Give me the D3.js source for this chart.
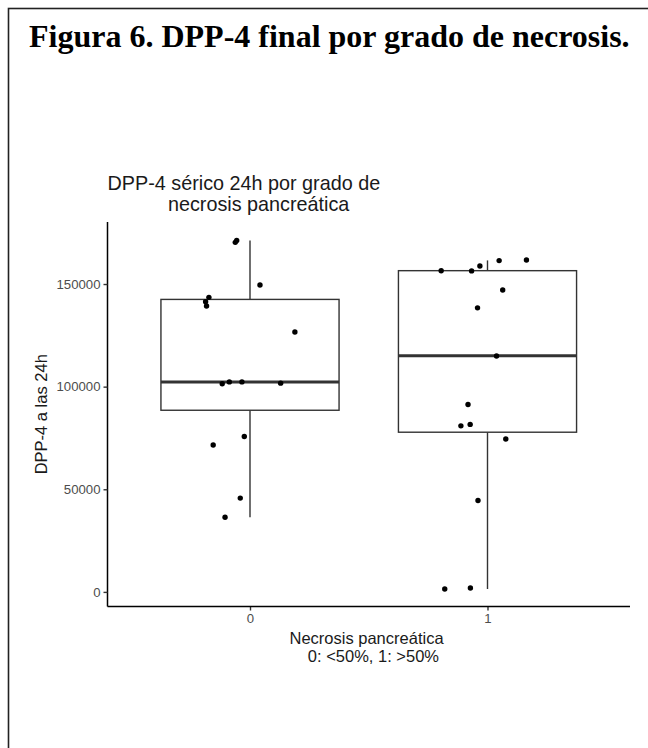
<!DOCTYPE html>
<html>
<head>
<meta charset="utf-8">
<script src="https://cdn.jsdelivr.net/npm/d3@7"></script>
<style>
  html, body { margin: 0; padding: 0; background: #fff; }
  svg { display: block; }
</style>
</head>
<body>
<svg id="chart" width="648" height="748"></svg>
<script>
// ---------------- data ----------------
const categories = ["0", "1"];
const yTicks = [0, 50000, 100000, 150000];

// box statistics: [lower whisker, Q1, median, Q3, upper whisker]
const boxStats0 = [36400, 88500, 102300, 142500, 171200];
const boxStats1 = [1400, 77800, 115000, 156500, 161500];

// individual observations (jittered points)
const values0 = [171200, 170300, 149500, 143500, 141400, 139300, 126600, 101400, 102300, 102300, 101700, 75700, 71600, 45700, 36400];
const jitter0 = [-0.056, -0.062, 0.042, -0.173, -0.187, -0.183, 0.189, -0.117, -0.087, -0.034, 0.129, -0.024, -0.155, -0.041, -0.105];
const values1 = [156500, 156400, 158800, 161400, 161700, 147100, 138400, 114900, 91300, 80900, 81600, 74500, 44500, 1400, 1900];
const jitter1 = [-0.195, -0.067, -0.032, 0.049, 0.164, 0.064, -0.042, 0.038, -0.082, -0.112, -0.073, 0.077, -0.040, -0.180, -0.072];

const figTitle = "Figura 6. DPP-4 final por grado de necrosis.";
const plotTitle = ["DPP-4 sérico 24h por grado de", "           necrosis pancreática"];
const xTitle = ["Necrosis pancreática", "    0: <50%, 1: >50%"];
const yTitle = "DPP-4 a las 24h";

// ---------------- layout ----------------
const svg = d3.select("#chart");
const panel = { left: 107.5, right: 630, top: 222, bottom: 606.5 };

// discrete x: ggplot expansion 0.6 on each side
const xLin = d3.scaleLinear()
  .domain([-0.6, categories.length - 1 + 0.6])
  .range([panel.left, panel.right]);
const xPos = c => xLin(categories.indexOf(c));
const unit = xLin(1) - xLin(0);

const yMin = 1400, yMax = 171700, pad = (yMax - yMin) * 0.05;
const y = d3.scaleLinear()
  .domain([yMin - pad, yMax + pad])
  .range([panel.bottom, panel.top]);

// outer frame
svg.append("rect")
  .attr("x", 8.5).attr("y", 8.5)
  .attr("width", 660).attr("height", 760)
  .attr("fill", "none").attr("stroke", "#222").attr("stroke-width", 1.6);

// figure title
svg.append("text")
  .attr("x", 29).attr("y", 47)
  .attr("font-family", "'Liberation Serif', 'Times New Roman', serif")
  .attr("font-weight", "bold")
  .attr("font-size", 32)
  .attr("fill", "#000")
  .text(figTitle);

const sans = "'Liberation Sans', Arial, Helvetica, sans-serif";

// plot title
svg.append("text")
  .attr("font-family", sans).attr("font-size", 19.8).attr("fill", "#1a1a1a")
  .attr("xml:space", "preserve").style("white-space", "pre")
  .selectAll("tspan").data(plotTitle).join("tspan")
  .attr("x", panel.left).attr("y", (d, i) => 189.5 + i * 21.5)
  .text(d => d);

// boxes
const boxW = 0.75 * unit;
const boxes = [
  { cat: categories[0], s: boxStats0 },
  { cat: categories[1], s: boxStats1 }
];
const g = svg.append("g");
boxes.forEach(b => {
  const cx = xPos(b.cat);
  const [lo, q1, med, q3, hi] = b.s;
  g.append("line").attr("x1", cx).attr("x2", cx).attr("y1", y(q3)).attr("y2", y(hi))
    .attr("stroke", "#333").attr("stroke-width", 1.4);
  g.append("line").attr("x1", cx).attr("x2", cx).attr("y1", y(q1)).attr("y2", y(lo))
    .attr("stroke", "#333").attr("stroke-width", 1.4);
  g.append("rect").attr("x", cx - boxW / 2).attr("y", y(q3))
    .attr("width", boxW).attr("height", y(q1) - y(q3))
    .attr("fill", "#fff").attr("stroke", "#333").attr("stroke-width", 1.4);
  g.append("line").attr("x1", cx - boxW / 2).attr("x2", cx + boxW / 2)
    .attr("y1", y(med)).attr("y2", y(med))
    .attr("stroke", "#333").attr("stroke-width", 3);
});

// points
const pts = [];
values0.forEach((v, i) => pts.push({ cat: categories[0], v, j: jitter0[i] }));
values1.forEach((v, i) => pts.push({ cat: categories[1], v, j: jitter1[i] }));
svg.append("g").selectAll("circle").data(pts).join("circle")
  .attr("cx", d => xPos(d.cat) + d.j * unit)
  .attr("cy", d => y(d.v))
  .attr("r", 2.7)
  .attr("fill", "#000");

// axes
const yAxis = d3.axisLeft(y).tickValues(yTicks).tickSize(4).tickPadding(3).tickFormat(d3.format("d"));
const ya = svg.append("g").attr("transform", `translate(${panel.left},0)`).call(yAxis);
ya.select(".domain").attr("stroke", "#000").attr("stroke-width", 1.5);
ya.selectAll(".tick line").attr("stroke", "#333").attr("stroke-width", 1.4);
ya.selectAll(".tick text").attr("font-family", sans).attr("font-size", 13.2).attr("fill", "#4d4d4d");

const xBand = d3.scalePoint().domain(categories).range([xPos(categories[0]), xPos(categories[1])]);
const xAxis = d3.axisBottom(xBand).tickSize(4).tickPadding(3);
const xa = svg.append("g").attr("transform", `translate(0,${panel.bottom})`).call(xAxis);
xa.select(".domain").remove();
xa.append("line").attr("x1", panel.left).attr("x2", panel.right).attr("y1", 0).attr("y2", 0)
  .attr("stroke", "#000").attr("stroke-width", 1.5);
xa.selectAll(".tick line").attr("stroke", "#333").attr("stroke-width", 1.4);
xa.selectAll(".tick text").attr("font-family", sans).attr("font-size", 13.2).attr("fill", "#4d4d4d");
ya.select(".domain").attr("d", `M0,${panel.top}V${panel.bottom}`);

// axis titles
svg.append("text")
  .attr("font-family", sans).attr("font-size", 16.5).attr("fill", "#1a1a1a")
  .attr("xml:space", "preserve").style("white-space", "pre")
  .selectAll("tspan").data(xTitle).join("tspan")
  .attr("x", 289.5).attr("y", (d, i) => 644 + i * 17.5)
  .text(d => d);

svg.append("text")
  .attr("transform", `translate(47,${(panel.top + panel.bottom) / 2}) rotate(-90)`)
  .attr("text-anchor", "middle")
  .attr("font-family", sans).attr("font-size", 16.5).attr("fill", "#1a1a1a")
  .text(yTitle);
</script>
</body>
</html>
